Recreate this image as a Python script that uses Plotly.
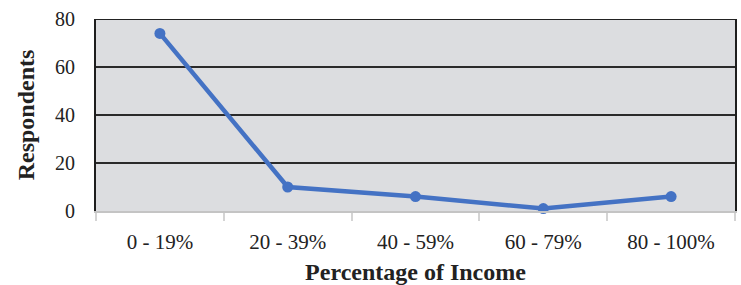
import plotly.graph_objects as go

categories = ["0 - 19%", "20 - 39%", "40 - 59%", "60 - 79%", "80 - 100%"]
respondents = [74, 10, 6, 1, 6]
y_ticks = [0, 20, 40, 60, 80]

FONT = "Liberation Serif"
TXT = "#222222"

fig = go.Figure(go.Scatter(
    x=categories, y=respondents, mode="lines+markers",
    line=dict(color="#4472C4", width=4.5),
    marker=dict(color="#4472C4", size=11),
    cliponaxis=False,
))

fig.add_shape(type="line", xref="paper", yref="y", x0=0, x1=1, y0=80, y1=80,
              line=dict(color="#222222", width=2), layer="above")

fig.update_layout(
    width=741, height=285,
    margin=dict(l=96, r=6, t=19, b=74),
    paper_bgcolor="white", plot_bgcolor="#dcdde0",
    showlegend=False,
    font=dict(family=FONT, color=TXT, size=16),
)
fig.update_xaxes(
    type="category", range=[-0.5, 4.5], automargin=False,
    showline=True, linecolor="#c4c4c4", linewidth=2,
    ticks="outside", tickson="boundaries", ticklen=8, tickcolor="#d4d4d4", tickwidth=1.5,
    ticklabelstandoff=11, showgrid=False,
    tickfont=dict(family=FONT, size=21, color=TXT),
    title=dict(text="<b>Percentage of Income</b>", font=dict(family=FONT, size=24, color=TXT), standoff=15),
)
fig.update_yaxes(
    range=[0, 80], tickvals=y_ticks, automargin=False,
    showline=True, linecolor="#1e1e1e", linewidth=2, mirror=True,
    showgrid=True, gridcolor="#2a2a2a", gridwidth=1.5, zeroline=False,
    ticks="outside", ticklen=15, tickcolor="rgba(0,0,0,0)",
    tickfont=dict(family=FONT, size=20, color=TXT),
    title=dict(text="<b>Respondents</b>", font=dict(family=FONT, size=24, color=TXT), standoff=14),
)

fig.write_html("out.html", config={"displayModeBar": False},
               post_script="document.body.style.margin='0';")
